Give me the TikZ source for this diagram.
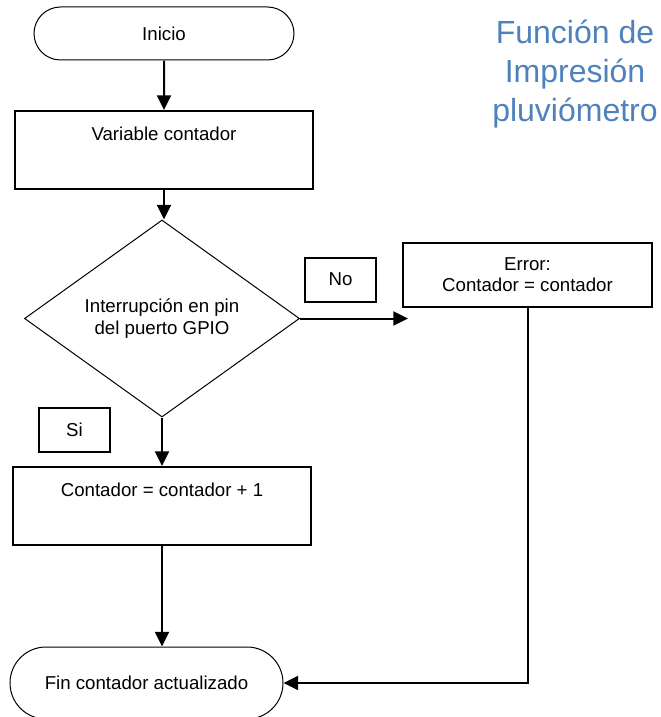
\documentclass[tikz,border=0pt]{standalone}
\usepackage{fontspec}
\setmainfont{Liberation Sans}
\usetikzlibrary{shapes.geometric,shapes.misc,arrows.meta}
\definecolor{titleblue}{RGB}{79,129,189}

\begin{document}
\begin{tikzpicture}[x=0.75pt,y=-0.75pt,
  font=\fontsize{14}{16}\selectfont,
  terminal/.style={draw,line width=0.75pt,rounded rectangle,inner sep=0pt},
  procbox/.style={draw,line width=1.5pt,anchor=north,minimum width=223pt,inner sep=0pt,
    text height=21.75pt,text depth=36.75pt},
  tagbox/.style={draw,line width=1.5pt,minimum width=53pt,minimum height=33pt,inner sep=0pt},
  flow/.style={line width=1.5pt,-{Triangle[length=11pt,width=10.5pt]}}]
  \useasboundingbox (0,0) rectangle (660,717);
  % title
  \node[font=\fontsize{24}{29}\selectfont,text=titleblue,align=center] (titulo) at (575,74)
    {Función de\\Impresión\\pluviómetro};
  % main column
  \node[terminal,minimum width=195pt,minimum height=39.75pt] (inicio) at (164,33.5) {Inicio};
  \node[procbox] (var) at (164,110) {Variable contador};
  \node[draw,line width=0.75pt,diamond,inner sep=0pt,minimum width=206.25pt,minimum height=147.75pt,
    align=center,font=\fontsize{14}{17}\selectfont] (dec) at (162,318.5)
    {Interrupción en pin\\del puerto GPIO};
  \node[procbox] (suma) at (162,466) {Contador = contador + 1};
  \node[terminal,minimum width=204.75pt,minimum height=54pt] (fin) at (146.5,683)
    {Fin contador actualizado};
  % branch
  \node[draw,line width=1.5pt,minimum width=186.75pt,minimum height=48pt,inner sep=0pt,
    align=center,font=\fontsize{14}{15.75}\selectfont] (error) at (527.5,275)
    {Error:\\Contador = contador};
  \node[tagbox] (no) at (340.5,279.5) {No};
  \node[tagbox] (si) at (74.5,430) {Si};
  \coordinate (noend) at (408,318.5);
  % connectors
  \draw[flow] (inicio) -- (var);
  \draw[flow] (var.south) -- (var.south |- dec.north);
  \draw[flow] (dec) -- (suma);
  \draw[flow] (dec.east) -- (noend);
  \draw[flow] (suma.south) -- (suma.south |- fin.north);
  \draw[flow] (error.south) |- (fin.east);
\end{tikzpicture}
\end{document}
